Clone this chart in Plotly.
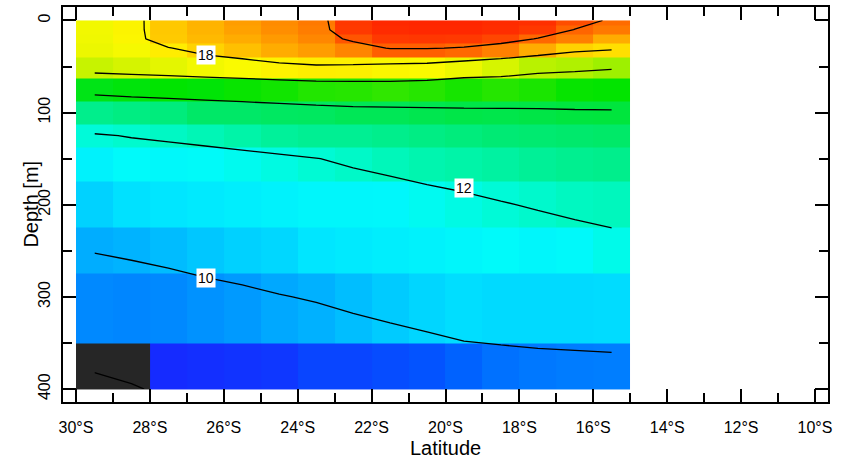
import plotly.graph_objects as go

# ---- data -------------------------------------------------------------
latitude = [-29.5, -28.5, -27.5, -26.5, -25.5, -24.5, -23.5, -22.5,
            -21.5, -20.5, -19.5, -18.5, -17.5, -16.5, -15.5]
depth = [0, 10, 20, 30, 50, 75, 100, 125, 150, 200, 250, 300, 400]

t_0m = [17.3, 17.7, 18.58, 18.9, 19.2, 19.45, 19.7, 20.65, 20.95, 21.0, 21.0, 20.9, 20.8, 20.3, 19.9]
t_10m = [17.3, 17.7, 18.57, 18.88, 19.15, 19.4, 19.65, 20.6, 20.9, 20.95, 20.95, 20.85, 20.6, 19.98, 19.7]
t_20m = [17.25, 17.65, 18.55, 18.8, 19.0, 19.25, 19.5, 20.2, 20.6, 20.65, 20.6, 20.4, 19.95, 19.6, 19.0]
t_30m = [17.15, 17.4, 17.95, 18.4, 18.7, 19.0, 19.2, 19.53, 20.06, 20.06, 19.93, 19.6, 19.0, 18.4, 18.2]
t_50m = [16.66, 16.81, 16.98, 17.3, 17.49, 17.75, 17.89, 17.83, 17.64, 17.55, 17.17, 16.82, 16.5, 16.4, 16.2]
t_75m = [14.3, 14.4, 14.5, 14.45, 14.6, 14.71, 14.92, 14.97, 15.08, 14.97, 14.77, 14.96, 14.83, 14.58, 14.53]
t_100m = [13.0, 13.12, 13.2, 13.46, 13.46, 13.53, 13.56, 13.66, 13.66, 13.73, 13.81, 13.78, 13.83, 13.91, 13.93]
t_125m = [11.91, 12.05, 12.2, 12.4, 12.6, 12.8, 12.9, 12.9, 13.0, 13.1, 13.2, 13.3, 13.35, 13.4, 13.45]
t_150m = [11.3, 11.5, 11.46, 11.51, 11.64, 11.8, 11.98, 12.15, 12.35, 12.5, 12.6, 12.7, 12.85, 12.95, 13.0]
t_200m = [10.6, 10.9, 11.0, 11.1, 11.2, 11.3, 11.4, 11.4, 11.43, 11.61, 11.77, 11.94, 12.08, 12.25, 12.3]
t_250m = [10.02, 10.11, 10.24, 10.41, 10.57, 10.7, 11.0, 11.1, 11.2, 11.3, 11.4, 11.5, 11.41, 11.47, 11.7]
t_300m = [9.6, 9.57, 9.6, 9.7, 9.8, 9.955, 10.08, 10.28, 10.47, 10.67, 10.83, 10.76, 10.76, 10.76, 10.8]
t_400m = [7.65, 7.9, 8.19, 8.3, 8.4, 8.5, 8.7, 8.7, 8.8, 8.9, 9.1, 9.3, 9.4, 9.45, 9.47]

lat_ticks = [-30, -28, -26, -24, -22, -20, -18, -16, -14, -12, -10]
depth_ticks = [0, 100, 200, 300, 400]
contour_levels = dict(start=8, end=20, size=2)

# ---- derived ----------------------------------------------------------
z = [t_0m, t_10m, t_20m, t_30m, t_50m, t_75m, t_100m, t_125m,
     t_150m, t_200m, t_250m, t_300m, t_400m]
lat_edges = [v - 0.5 for v in latitude] + [latitude[-1] + 0.5]
depth_edges = [depth[0]] + [(a + b) / 2 for a, b in zip(depth[:-1], depth[1:])] + [depth[-1]]
lat_labels = [f"{abs(v)}°S" for v in lat_ticks]

zmin, zmax = 7.5, 21.5
stops = [
    (7.5, (38, 38, 38)), (7.999, (38, 38, 38)),
    (8.0, (25, 35, 255)), (8.5, (15, 55, 255)), (9.0, (0, 90, 255)),
    (9.5, (0, 128, 255)), (10.0, (0, 172, 255)), (10.5, (0, 205, 255)),
    (11.0, (0, 230, 255)), (11.5, (0, 250, 250)), (12.0, (0, 250, 210)),
    (12.5, (0, 245, 175)), (13.0, (0, 238, 140)), (13.5, (0, 232, 100)),
    (14.0, (0, 228, 55)), (14.5, (0, 228, 0)), (15.0, (40, 230, 0)),
    (16.0, (140, 238, 0)), (16.5, (185, 242, 0)), (17.0, (230, 246, 0)),
    (17.5, (250, 250, 0)), (18.0, (255, 235, 0)), (18.5, (255, 205, 0)),
    (19.0, (255, 172, 0)), (19.5, (255, 135, 0)), (20.0, (255, 100, 0)),
    (20.5, (255, 62, 0)), (21.0, (255, 38, 0)), (21.5, (248, 20, 0)),
]
colorscale = [[(v - zmin) / (zmax - zmin), "rgb(%d,%d,%d)" % c] for v, c in stops]

FONT = "Liberation Sans, Arial, Helvetica, sans-serif"

fig = go.Figure()
fig.add_trace(go.Heatmap(
    x=lat_edges, y=depth_edges, z=z,
    zmin=zmin, zmax=zmax, colorscale=colorscale,
    showscale=False, hoverinfo="skip",
))
fig.add_trace(go.Contour(
    x=latitude, y=depth, z=z,
    contours=dict(coloring="none", showlabels=False, **contour_levels),
    line=dict(color="black", width=1.3, smoothing=0),
    showscale=False, hoverinfo="skip",
))

axis_common = dict(
    showline=True, linecolor="black", linewidth=1.5, mirror="ticks",
    ticks="inside", ticklen=13, tickwidth=1.5, tickcolor="black",
    showgrid=False, zeroline=False,
    tickfont=dict(size=16, color="black", family=FONT),
)

fig.update_layout(
    width=845, height=458,
    margin=dict(l=63, r=17, t=5, b=56),
    paper_bgcolor="white", plot_bgcolor="white",
    showlegend=False,
    font=dict(family=FONT, color="black"),
    xaxis=dict(
        range=[-30.352, -9.648],
        tickmode="array", tickvals=lat_ticks, ticktext=lat_labels,
        ticklabelstandoff=10,
        minor=dict(ticks="inside", ticklen=9, tickwidth=1.5, tickcolor="black",
                   tickmode="linear", tick0=-30, dtick=1, showgrid=False),
        **axis_common,
    ),
    yaxis=dict(
        range=[414, -14.6],
        tickmode="array", tickvals=depth_ticks,
        tickangle=-90, ticklabelstandoff=5,
        minor=dict(ticks="inside", ticklen=9, tickwidth=1.5, tickcolor="black",
                   tickmode="linear", tick0=0, dtick=50, showgrid=False),
        **axis_common,
    ),
    annotations=[
        dict(text="Latitude", xref="paper", yref="paper", x=0.5, y=-0.117,
             showarrow=False, font=dict(size=20, family=FONT, color="black"),
             xanchor="center", yanchor="middle"),
        dict(text="Depth [m]", xref="paper", yref="paper", x=-0.043, y=0.5,
             textangle=-90, showarrow=False,
             font=dict(size=20, family=FONT, color="black"),
             xanchor="center", yanchor="middle"),
        dict(text="18", x=-26.48, y=37, xref="x", yref="y", showarrow=False,
             bgcolor="white", borderpad=1, font=dict(size=14, family=FONT, color="black")),
        dict(text="12", x=-19.49, y=182, xref="x", yref="y", showarrow=False,
             bgcolor="white", borderpad=1, font=dict(size=14, family=FONT, color="black")),
        dict(text="10", x=-26.48, y=279, xref="x", yref="y", showarrow=False,
             bgcolor="white", borderpad=1, font=dict(size=14, family=FONT, color="black")),
    ],
)

fig.write_html("out.html", config={"displayModeBar": False},
               post_script="document.body.style.margin='0';")
